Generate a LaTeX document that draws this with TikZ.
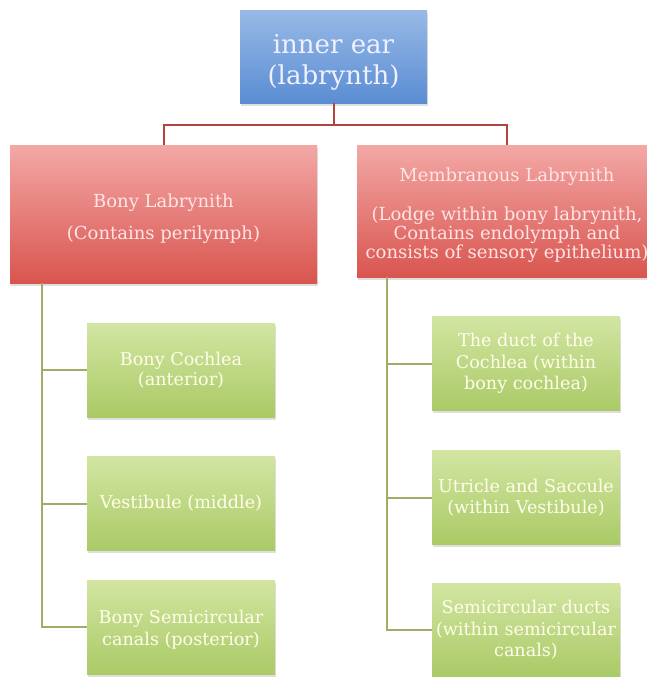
\documentclass[tikz,border=0pt]{standalone}
\usepackage{fontspec}
\setmainfont{DejaVu Serif}
\usetikzlibrary{shadows,calc}
\definecolor{bluetop}{HTML}{97B9E6}
\definecolor{bluebot}{HTML}{5A8DD3}
\definecolor{redtop}{HTML}{F3A8A6}
\definecolor{redbot}{HTML}{D9554F}
\definecolor{greentop}{HTML}{D2E5A2}
\definecolor{greenbot}{HTML}{AACA66}
\definecolor{redline}{HTML}{B2443E}
\definecolor{greenline}{HTML}{A2AC66}
\tikzset{
  boxbase/.style={rectangle, inner sep=0pt, align=center,
    drop shadow={opacity=0.25, shadow xshift=1pt, shadow yshift=-2.5pt}},
  bluebox/.style={boxbase, top color=bluetop, bottom color=bluebot,
    text=white!94!blue, font=\fontsize{26}{31}\selectfont},
  redbox/.style={boxbase, top color=redtop, bottom color=redbot,
    text=white!90!red, font=\fontsize{18}{22}\selectfont},
  greenbox/.style={boxbase, top color=greentop, bottom color=greenbot,
    text=white!92!yellow, minimum width=188pt, minimum height=94pt,
    font=\fontsize{17.6}{21.5}\selectfont},
  rline/.style={draw=redline, line width=2pt},
  gline/.style={draw=greenline, line width=2pt}
}
\begin{document}
\begin{tikzpicture}[x=1pt,y=-1pt]
\useasboundingbox (0,0) rectangle (647,677);
\fill[white] (0,0) rectangle (647,677);
\clip (0,0) rectangle (647,677);

\node[bluebox, minimum width=187pt, minimum height=92pt] (ear) at (333.5,57) {\rule{0pt}{30pt}inner ear\\(labrynth)};
\node[redbox, minimum width=307pt, minimum height=138pt] (bony) at (163.5,214) {\rule{0pt}{22pt}Bony Labrynith\\[10pt](Contains perilymph)};
\node[redbox, minimum width=300pt, minimum height=132pt, font=\fontsize{18}{15.5}\selectfont] (memb) at (507,211)
  {\rule{0pt}{22pt}Membranous Labrynith\\[20pt](Lodge within bony labrynith,\\Contains endolymph and\\consists of sensory epithelium)};

\node[greenbox, font=\fontsize{17.6}{20}\selectfont] (c1) at (181,370) {Bony Cochlea\\(anterior)};
\node[greenbox] (c2) at (181,503.5) {Vestibule (middle)};
\node[greenbox] (c3) at (181,627) {\rule{0pt}{19pt}Bony Semicircular\\canals (posterior)};

\node[greenbox] (d1) at (526,363.5) {The duct of the\\Cochlea (within\\bony cochlea)};
\node[greenbox] (d2) at (526,497.5) {Utricle and Saccule\\(within Vestibule)};
\node[greenbox] (d3) at (526,630) {Semicircular ducts\\(within semicircular\\canals)};

\coordinate (hub) at ($(ear.south)+(0,22)$);
\draw[rline] (ear.south) -- (hub);
\draw[rline] (hub) -| (bony.north);
\draw[rline] (hub) -| (memb.north);

\coordinate (lt) at ($(bony.south west)+(32,0)$);
\coordinate (rt) at ($(memb.south west)+(30,0)$);
\draw[gline] (lt) |- (c3.west);
\draw[gline] (lt) |- (c2.west);
\draw[gline] (lt) |- (c1.west);
\draw[gline] (rt) |- (d3.west);
\draw[gline] (rt) |- (d2.west);
\draw[gline] (rt) |- (d1.west);
\end{tikzpicture}
\end{document}
